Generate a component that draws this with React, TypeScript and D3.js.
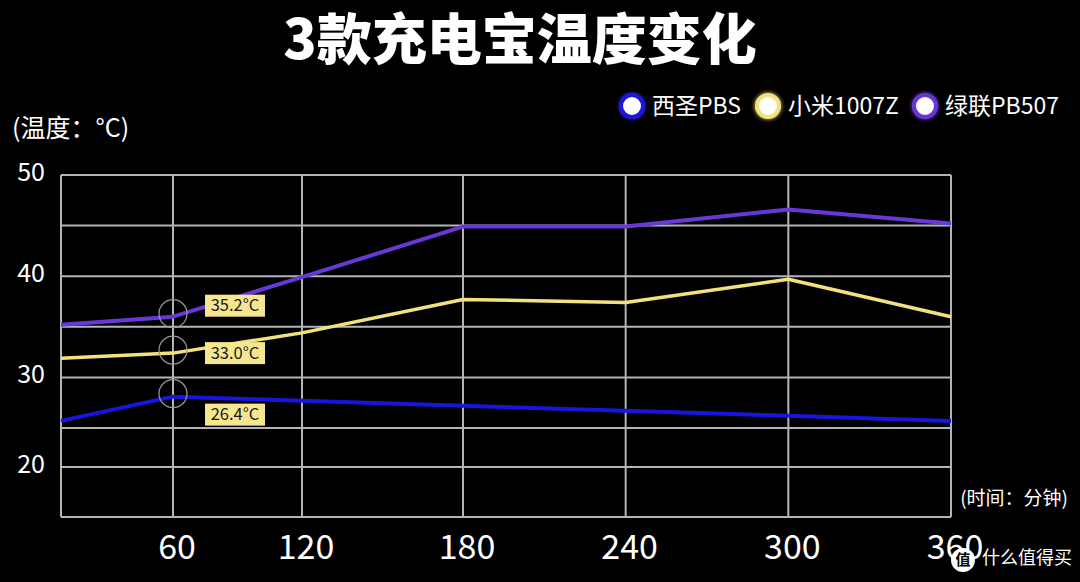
import React from 'react';
import * as d3 from 'd3';

// minutes on the x axis
const minutes = [0, 60, 120, 180, 240, 300, 360];
const xTickValues = [60, 120, 180, 240, 300, 360];
const yTickValues = [20, 30, 40, 50];
const yGridValues = [20, 25, 30, 35, 40, 45, 50];

const seriesNames = ['西圣PBS', '小米1007Z', '绿联PB507'];
const xisiValues = [25.7, 28.1, 27.7, 27.2, 26.7, 26.2, 25.7];
const xiaomiValues = [31.9, 32.4, 34.4, 37.7, 37.4, 39.7, 36.0];
const ugreenValues = [35.2, 36.0, 39.9, 44.9, 44.9, 46.6, 45.2];

const markedMinute = 60;
const markedLabels = ['26.4°C', '33.0°C', '35.2°C'];

const colors = ['#1a14e0', '#f2e27e', '#6a36d8'];
const lineWidths = [4, 3.5, 4];
const labelShift = [18, 0, -11];

const FONT = '"Noto Sans CJK SC", "Noto Sans", sans-serif';

export default function App() {
  const width = 1080;
  const height = 582;

  // the source chart is hand drawn, its grid is not evenly spaced
  const x = d3.scaleLinear().domain([0, 60, 120, 180, 360]).range([61, 173, 302, 463, 951]);
  const y = d3.scaleLinear().domain([15, 20, 25, 50]).range([517, 467, 428, 175]);

  const allSeries = [xisiValues, xiaomiValues, ugreenValues];

  const line = d3.line<number>()
    .x((_: number, i: number) => x(minutes[i]))
    .y((d: number) => y(d))
    .curve(d3.curveLinear);

  const [x0, x1] = [x(0), x(360)];
  const [yTop, yBottom] = [y(50), y(15)];
  const mi = minutes.indexOf(markedMinute);

  const legendX = [632, 768, 925];

  return (
    <svg width={width} height={height} style={{ position: 'absolute', left: 0, top: 0, background: '#000' }}>
      <defs>
        <filter id="glow" x="-50%" y="-50%" width="200%" height="200%">
          <feGaussianBlur stdDeviation="2" result="b" />
          <feMerge>
            <feMergeNode in="b" />
            <feMergeNode in="SourceGraphic" />
          </feMerge>
        </filter>
      </defs>
      <rect width={width} height={height} fill="#000" />

      <text x={520} y={40} dy="0.35em" textAnchor="middle" fill="#fff" fontFamily={FONT} fontWeight={900} fontSize={55}>
        3款充电宝温度变化
      </text>

      {/* legend */}
      {seriesNames.map((name, i) => (
        <g key={name}>
          <circle cx={legendX[i]} cy={106} r={11} fill="#fff" stroke={colors[i]} strokeWidth={4} filter="url(#glow)" />
          <text x={legendX[i] + 20} y={106} dy="0.35em" fill="#fff" fontFamily={FONT} fontSize={23}>{name}</text>
        </g>
      ))}

      <text x={12} y={128} dy="0.35em" fill="#fff" fontFamily={FONT} fontSize={25}>(温度：°C)</text>
      <text x={1068} y={498} dy="0.35em" textAnchor="end" fill="#fff" fontFamily={FONT} fontSize={19}>(时间：分钟)</text>

      {/* grid */}
      {yGridValues.map((v) => (
        <line key={'h' + v} x1={x0} x2={x1} y1={y(v)} y2={y(v)} stroke="#b4b4b4" strokeWidth={2} />
      ))}
      <line x1={x0} x2={x1} y1={yBottom} y2={yBottom} stroke="#b4b4b4" strokeWidth={2} />
      {[0, ...xTickValues].map((m) => (
        <line key={'v' + m} x1={x(m)} x2={x(m)} y1={yTop} y2={yBottom} stroke="#b4b4b4" strokeWidth={2} />
      ))}

      {yTickValues.map((v) => (
        <text key={'yt' + v} x={45} y={y(v) - 3} dy="0.35em" textAnchor="end" fill="#fff" fontFamily={FONT} fontSize={25}>{v}</text>
      ))}
      {xTickValues.map((m) => (
        <text key={'xt' + m} x={x(m) + 4} y={547} dy="0.35em" textAnchor="middle" fill="#fff" fontFamily={FONT} fontSize={34}>{m}</text>
      ))}

      {/* lines */}
      {allSeries.map((vals, i) => (
        <path key={'s' + i} d={line(vals) || ''} fill="none" stroke={colors[i]} strokeWidth={lineWidths[i]} strokeLinejoin="round" />
      ))}

      {/* marks at 60 min */}
      {allSeries.map((vals, i) => {
        const cx = x(markedMinute);
        const cy = y(vals[mi]);
        const ly = cy + labelShift[i];
        return (
          <g key={'m' + i}>
            <circle cx={cx} cy={cy - 3} r={14} fill="none" stroke="#9a9a9a" strokeWidth={1.2} />
            <rect x={cx + 32} y={ly - 11} width={60} height={22} fill="#f5e68f" />
            <text x={cx + 62} y={ly} dy="0.35em" textAnchor="middle" fill="#1a1a1a" fontFamily={FONT} fontSize={16.5}>{markedLabels[i]}</text>
          </g>
        );
      })}

      {/* watermark */}
      <circle cx={963} cy={560} r={12} fill="#fff" />
      <text x={963} y={560} dy="0.35em" textAnchor="middle" fill="#000" fontFamily={FONT} fontWeight={700} fontSize={15}>值</text>
      <text x={982} y={558} dy="0.35em" fill="#fff" fontFamily={FONT} fontSize={18}>什么值得买</text>
    </svg>
  );
}
